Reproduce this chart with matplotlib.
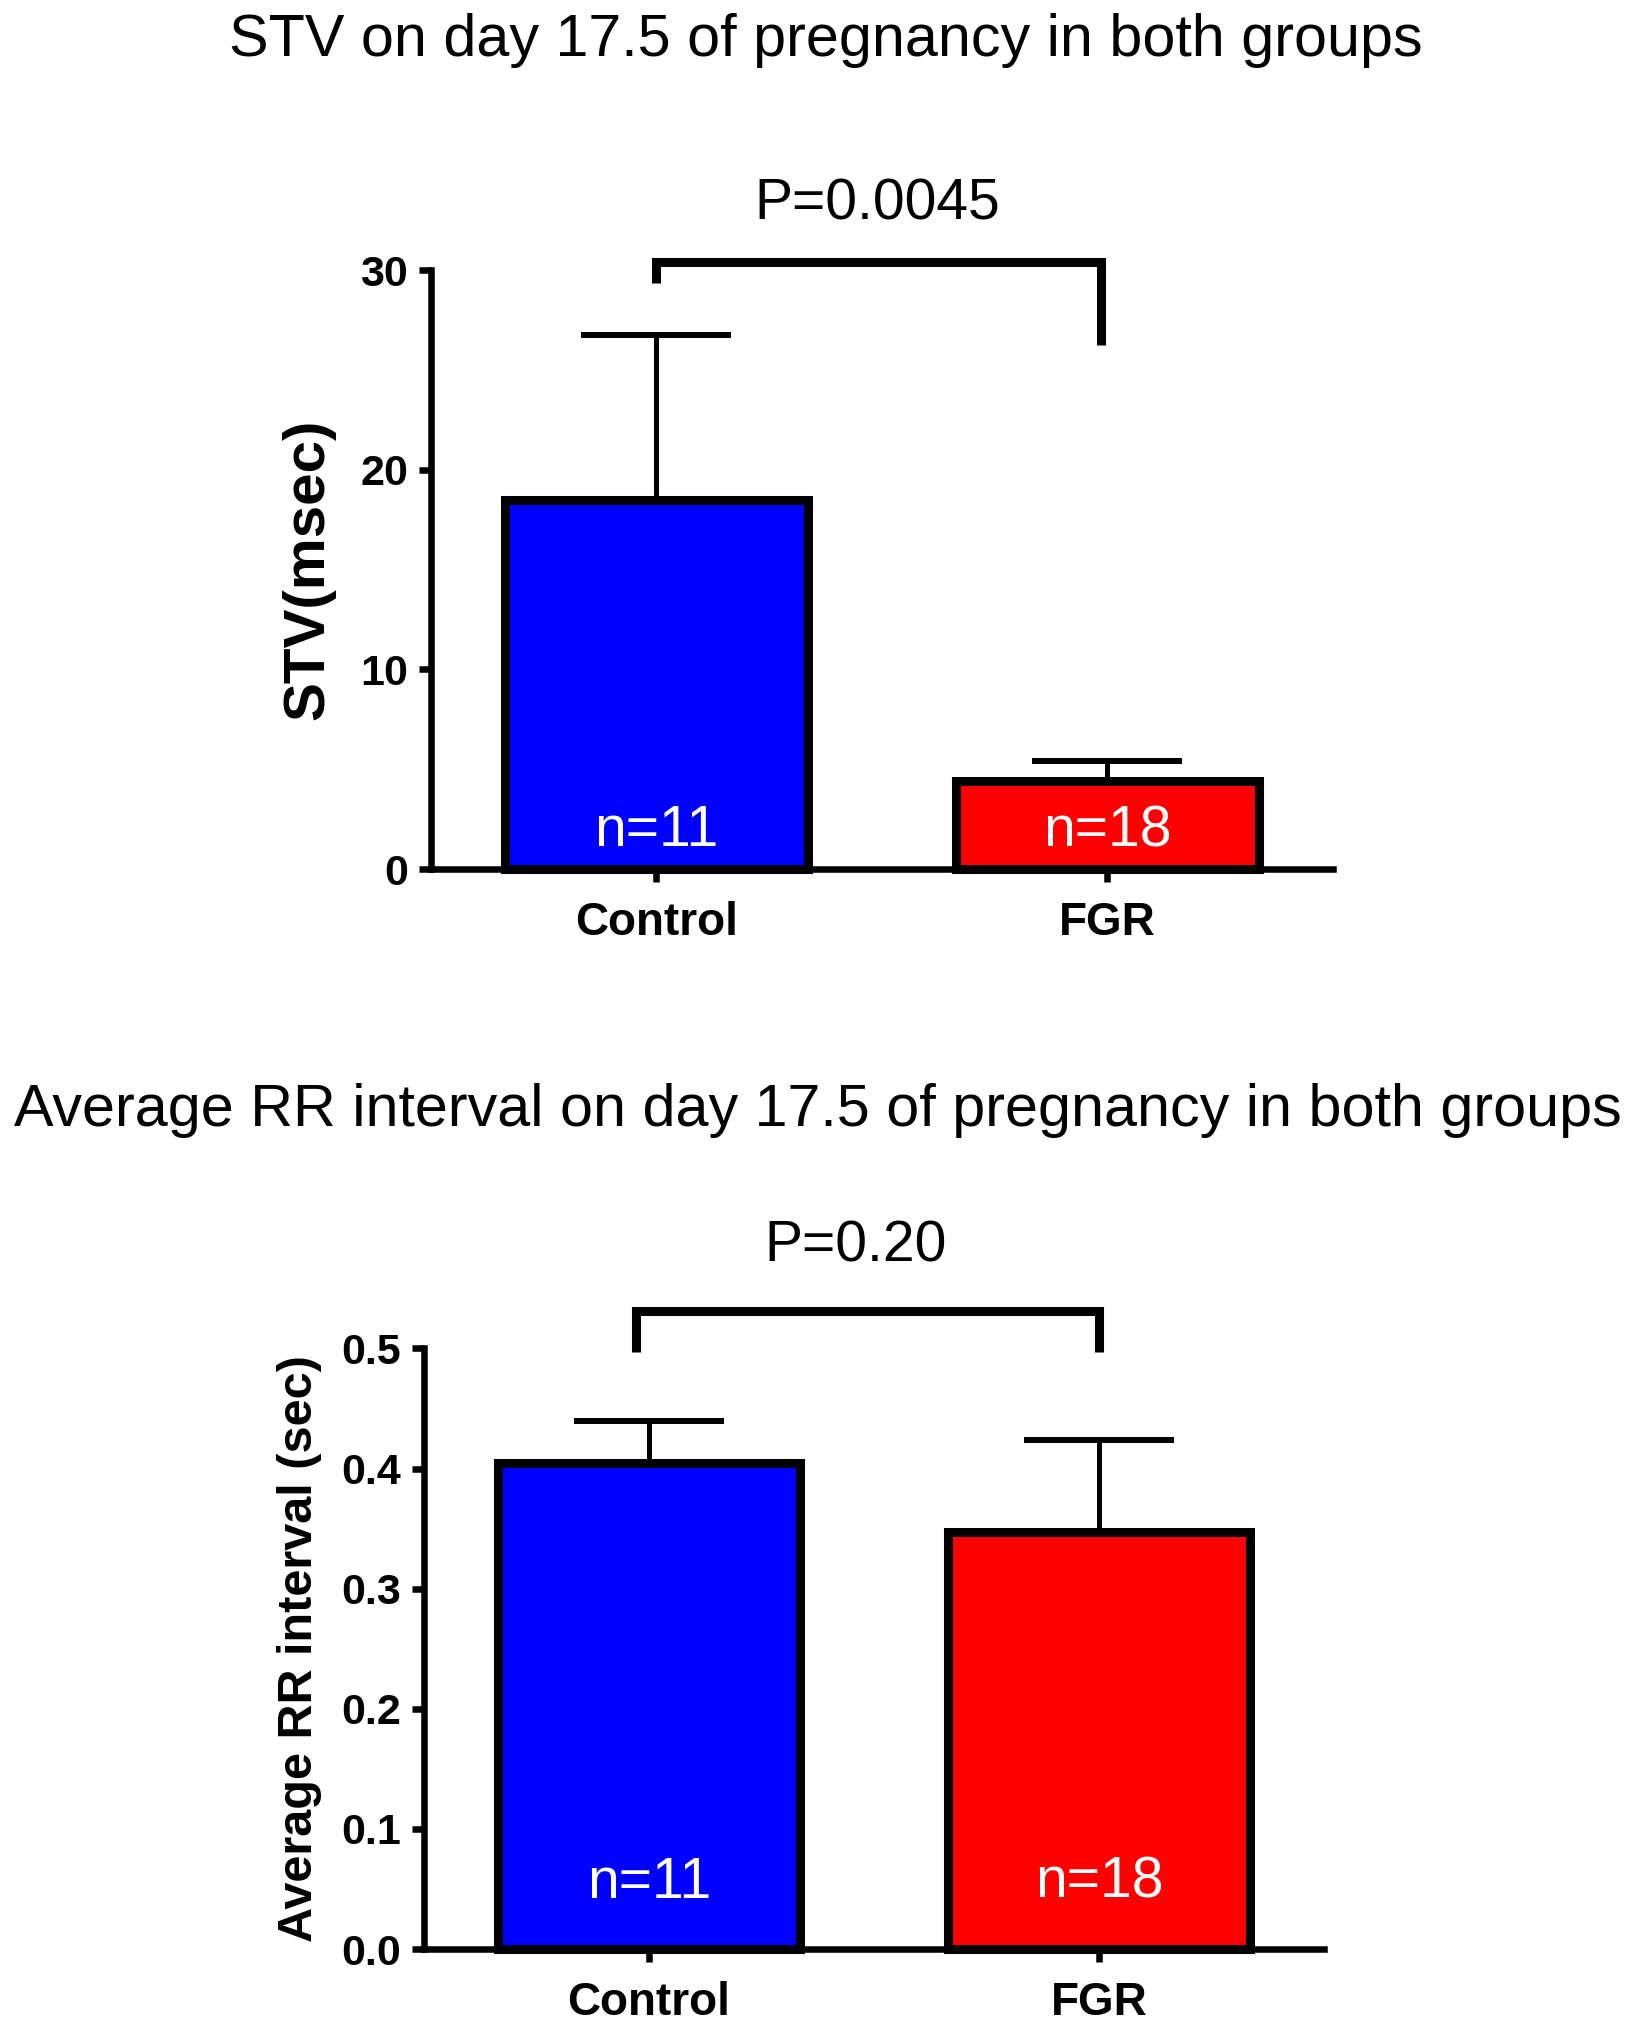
import matplotlib
matplotlib.use('Agg')
import matplotlib.pyplot as plt

# Werte
groups = ['Control', 'FGR']
n_labels = ['n=11', 'n=18']
bar_colors = ['#0000ff', '#ff0000']

stv_mean = [18.5, 4.43]
stv_sem = [8.25, 0.98]
stv_ticks = [0, 10, 20, 30]
stv_ticklabels = ['0', '10', '20', '30']

rr_mean = [0.405, 0.347]
rr_sem = [0.035, 0.077]
rr_ticks = [0.0, 0.1, 0.2, 0.3, 0.4, 0.5]
rr_ticklabels = ['0.0', '0.1', '0.2', '0.3', '0.4', '0.5']

plt.rcParams['font.family'] = ['Liberation Sans', 'DejaVu Sans']

fig = plt.figure(figsize=(16.36, 20.22), dpi=100)


def draw_panel(ax, means, sems, ymax, ticks, ticklabels, ylabel, ylabel_size,
               ylabel_x, bracket_x, bracket_y, p_text, p_pos, n_y):
    x = list(range(len(groups)))
    ax.bar(x, means, width=0.673, color=bar_colors, edgecolor='black',
           linewidth=6.5, zorder=3, clip_on=False)
    ax.errorbar(x, means, yerr=[[0] * len(sems), sems], fmt='none',
                ecolor='black', elinewidth=3.6, capsize=53.7, capthick=4.3,
                zorder=2, clip_on=False)
    ax.set_xlim(-0.5, 1.5)
    ax.set_ylim(0, ymax)
    for s in ['top', 'right']:
        ax.spines[s].set_visible(False)
    for s in ['left', 'bottom']:
        ax.spines[s].set_linewidth(4.7)
    ax.tick_params(axis='both', direction='out', length=9, width=4.7)
    ax.tick_params(axis='y', pad=7.5)
    ax.tick_params(axis='x', pad=14)
    ax.set_yticks(ticks, ticklabels, fontsize=31, fontweight='bold')
    ax.set_xticks(x, groups, fontsize=33, fontweight='bold')
    ax.set_ylabel(ylabel, fontsize=ylabel_size, fontweight='bold')
    ax.yaxis.set_label_coords(ylabel_x, 0.5)

    # Signifikanzklammer
    ax.plot([bracket_x[0], bracket_x[0], bracket_x[1], bracket_x[1]],
            bracket_y, color='black', lw=6.5, clip_on=False,
            solid_joinstyle='miter', solid_capstyle='butt')
    ax.text(p_pos[0], p_pos[1], p_text, fontsize=41, ha='center',
            va='center', clip_on=False)

    for xi, lab in zip(x, n_labels):
        ax.text(xi, n_y, lab, color='white', fontsize=41, ha='center',
                va='center', transform=ax.get_xaxis_transform(), zorder=4)


ax1 = fig.add_axes([0.2634, 0.5702, 0.5513, 0.2962])
draw_panel(ax1, stv_mean, stv_sem, 30, stv_ticks, stv_ticklabels,
           'STV(msec)', 42, -0.106,
           [0.0, 0.985], [29.35, 30.43, 30.43, 26.24],
           'P=0.0045', (0.49, 33.3), 0.063)

ax2 = fig.add_axes([0.2592, 0.0361, 0.5501, 0.297])
draw_panel(ax2, rr_mean, rr_sem, 0.5, rr_ticks, rr_ticklabels,
           'Average RR interval (sec)', 35, -0.113,
           [-0.029, 1.0], [0.497, 0.531, 0.531, 0.497],
           'P=0.20', (0.458, 0.5845), 0.11)

fig.text(0.505, 1 - 41 / 2022, 'STV on day 17.5 of pregnancy in both groups',
         fontsize=42.7, ha='center', va='center')
fig.text(0.5, 1 - 1110 / 2022,
         'Average RR interval on day 17.5 of pregnancy in both groups',
         fontsize=42.7, ha='center', va='center')

fig.savefig('out.png', dpi=100, facecolor='white')
